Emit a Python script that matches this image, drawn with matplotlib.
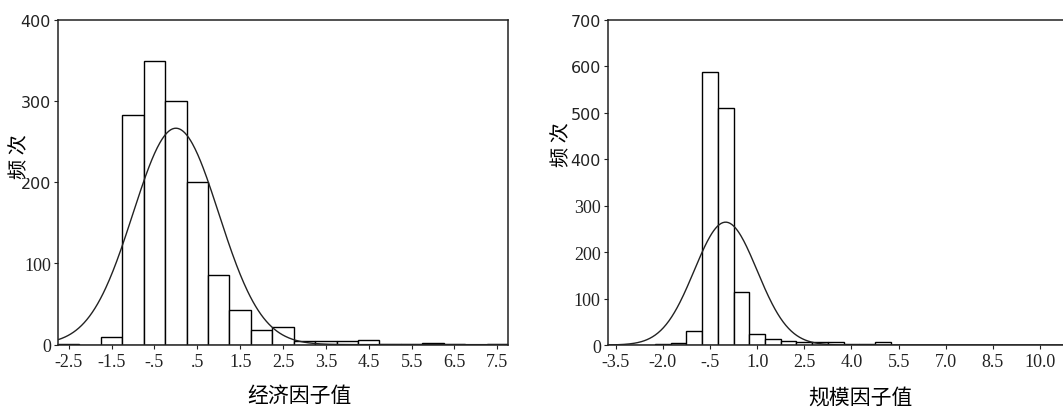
import numpy as np
import matplotlib
matplotlib.use("Agg")
import matplotlib.pyplot as plt

plt.rcParams["font.family"] = ["Liberation Serif", "Noto Sans CJK SC"]

# ---- data ----
econ_centers = [-2.5, -2.0, -1.5, -1.0, -0.5, 0.0, 0.5, 1.0, 1.5, 2.0, 2.5,
                3.0, 3.5, 4.0, 4.5, 5.0, 5.5, 6.0, 6.5, 7.0, 7.5]
econ_counts = [1, 0, 9, 283, 350, 300, 200, 86, 43, 18, 22,
               4, 5, 4, 6, 1, 1, 2, 1, 0, 1]
econ_ticks = [-2.5, -1.5, -0.5, 0.5, 1.5, 2.5, 3.5, 4.5, 5.5, 6.5, 7.5]
econ_ticklabels = ["-2.5", "-1.5", "-.5", ".5", "1.5", "2.5", "3.5", "4.5", "5.5", "6.5", "7.5"]
econ_yticks = [0, 100, 200, 300, 400]

size_centers = [-3.5, -3.0, -2.5, -2.0, -1.5, -1.0, -0.5, 0.0, 0.5, 1.0, 1.5, 2.0,
                2.5, 3.0, 3.5, 4.0, 4.5, 5.0, 5.5, 6.0, 6.5, 7.0, 7.5, 8.0,
                8.5, 9.0, 9.5, 10.0, 10.5]
size_counts = [0, 1, 0, 2, 4, 30, 587, 511, 114, 23, 12, 9,
               6, 7, 7, 3, 3, 6, 1, 0, 0, 0, 0, 0,
               0, 0, 0, 0, 1]
size_ticks = [-3.5, -2.0, -0.5, 1.0, 2.5, 4.0, 5.5, 7.0, 8.5, 10.0]
size_ticklabels = ["-3.5", "-2.0", "-.5", "1.0", "2.5", "4.0", "5.5", "7.0", "8.5", "10.0"]
size_yticks = [0, 100, 200, 300, 400, 500, 600, 700]

bin_width = 0.5
mean, sd = 0.0, 1.0  # standardized factor scores


def hist_panel(ax, centers, counts, xlim, ylim, ticks, ticklabels, yticks, sans_from):
    ax.bar(centers, counts, width=bin_width, facecolor="white",
           edgecolor="black", linewidth=1.0, zorder=2)
    n = sum(counts)
    xs = np.linspace(xlim[0], xlim[1], 500)
    ys = n * bin_width * np.exp(-0.5 * ((xs - mean) / sd) ** 2) / (sd * np.sqrt(2 * np.pi))
    ax.plot(xs, ys, color="#222222", linewidth=1.0, zorder=3)
    ax.set_xlim(*xlim)
    ax.set_ylim(*ylim)
    ax.set_xticks(ticks)
    ax.set_xticklabels(ticklabels)
    ax.set_yticks(yticks)
    ax.tick_params(axis="both", direction="out", length=3, width=0.8,
                   labelsize=13, colors="#222222")
    ax.tick_params(axis="x", pad=3)
    ax.tick_params(axis="y", pad=2)
    # scanned original mixes sans upper labels with serif lower ones
    for lab, v in zip(ax.get_yticklabels(), yticks):
        if v >= sans_from:
            lab.set_fontfamily("DejaVu Sans")
            lab.set_fontsize(11.5)
    for sp in ax.spines.values():
        sp.set_linewidth(1.1)
        sp.set_color("#222222")


fig = plt.figure(figsize=(10.63, 4.10), dpi=100)
ax1 = fig.add_axes([0.0546, 0.157, 0.4233, 0.7917])
ax2 = fig.add_axes([0.5717, 0.156, 0.4290, 0.7927])

hist_panel(ax1, econ_centers, econ_counts, (-2.75, 7.75), (0, 400),
           econ_ticks, econ_ticklabels, econ_yticks, sans_from=200)
hist_panel(ax2, size_centers, size_counts, (-3.75, 10.75), (0, 700),
           size_ticks, size_ticklabels, size_yticks, sans_from=400)

cjk = ["Noto Sans CJK SC"]
fig.text(20 / 1063, 1 - 157 / 410, "频 次", rotation=90, ha="center", va="center",
         fontsize=14.5, family=cjk, fontweight="light",
         bbox=dict(facecolor="white", edgecolor="none", pad=0))
fig.text(562 / 1063, 1 - 145 / 410, "频 次", rotation=90, ha="center", va="center",
         fontsize=14.5, family=cjk, fontweight="light")
fig.text(299 / 1063, 1 - 396 / 410, "经济因子值", ha="center", va="center",
         fontsize=15, family=cjk, fontweight="light")
fig.text(860 / 1063, 1 - 398 / 410, "规模因子值", ha="center", va="center",
         fontsize=15, family=cjk, fontweight="light")

fig.savefig("out.png", dpi=100)
